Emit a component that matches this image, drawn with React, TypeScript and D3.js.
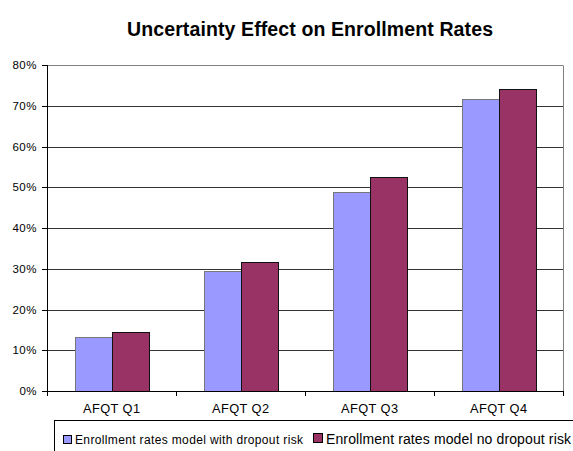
import React from "react";
import * as d3 from "d3";

const categories = ["AFQT Q1", "AFQT Q2", "AFQT Q3", "AFQT Q4"];
const seriesNames = [
  "Enrollment rates model with dropout risk",
  "Enrollment rates model no dropout risk",
];
const withDropout = [0.133, 0.295, 0.488, 0.716];
const noDropout = [0.146, 0.316, 0.524, 0.741];
const yTicks = [0, 0.1, 0.2, 0.3, 0.4, 0.5, 0.6, 0.7, 0.8];
const colors = ["#9999FF", "#993366"];
const strokes = ["#777777", "#111111"];

export default function App() {
  const W = 573, H = 451;
  const left = 47, right = 563, top = 65, bottom = 391;
  const y = d3.scaleLinear().domain([0, 0.8]).range([bottom, top]);
  const x0 = d3.scaleBand<string>().domain(categories).range([left, right]).padding(0);
  const bw = x0.bandwidth();
  const pad = bw * 0.214;
  const x1 = d3.scaleBand<number>().domain([0, 1]).range([pad, bw - pad]).padding(0);
  const fmt = d3.format(".0%");
  const series = [withDropout, noDropout];
  const font = "'Liberation Sans', Arial, sans-serif";

  return (
    <svg width={W} height={H} style={{ position: "absolute", left: 0, top: 0, background: "#fff" }} fontFamily={font}>
      <text x={310} y={36} textAnchor="middle" fontSize={19.5} fontWeight="bold" fill="#000"
        textLength={366} lengthAdjust="spacing">
        Uncertainty Effect on Enrollment Rates
      </text>
      {/* gridlines */}
      {yTicks.map((t) => (
        <line key={"g" + t} x1={left} x2={right} y1={Math.round(y(t)) + 0.5} y2={Math.round(y(t)) + 0.5}
          stroke={t === 0.8 ? "#808080" : "#333"} strokeWidth={1} />
      ))}
      {/* right border */}
      <line x1={right + 0.5} x2={right + 0.5} y1={Math.round(y(0.8)) + 0.5} y2={bottom} stroke="#808080" />
      {/* bars */}
      {categories.map((c, i) => (
        <g key={c}>
          {series.map((s, j) => {
            const bx = (x0(c) as number) + (x1(j) as number);
            const by = y(s[i]);
            return (
              <rect key={j} x={Math.round(bx) + 0.5} y={Math.round(by) + 0.5} width={Math.round(x1.bandwidth())}
                height={Math.round(bottom - by)} fill={colors[j]} stroke={strokes[j]} strokeWidth={1} />
            );
          })}
        </g>
      ))}
      {/* y axis */}
      <line x1={left + 0.5} x2={left + 0.5} y1={top} y2={bottom + 0.5} stroke="#000" />
      {yTicks.map((t) => (
        <g key={"t" + t}>
          <line x1={left - 5} x2={left} y1={Math.round(y(t)) + 0.5} y2={Math.round(y(t)) + 0.5} stroke="#000" />
          <text x={37} y={y(t) + 4} textAnchor="end" fontSize={11.5} letterSpacing={0.5} fill="#000">{fmt(t)}</text>
        </g>
      ))}
      {/* x axis */}
      <line x1={left} x2={right + 1} y1={bottom + 0.5} y2={bottom + 0.5} stroke="#000" />
      {[...categories.map((c) => x0(c) as number), right].map((v, k) => (
        <line key={"xt" + k} x1={Math.round(v) + 0.5} x2={Math.round(v) + 0.5} y1={bottom} y2={bottom + 5} stroke="#000" />
      ))}
      {categories.map((c) => (
        <text key={"xl" + c} x={(x0(c) as number) + bw / 2} y={413} textAnchor="middle" fontSize={12.8}
          textLength={57} lengthAdjust="spacing" fill="#000">{c}</text>
      ))}
      {/* legend */}
      <rect x={54.5} y={420.5} width={530} height={40} fill="#fff" stroke="#000" />
      <rect x={63.5} y={435.5} width={8} height={8} fill={colors[0]} stroke="#000" />
      <text x={75} y={444} fontSize={12} textLength={228} lengthAdjust="spacing" fill="#000">{seriesNames[0]}</text>
      <rect x={313.5} y={433.5} width={9} height={9} fill={colors[1]} stroke="#000" />
      <text x={326} y={444} fontSize={14} textLength={245} lengthAdjust="spacing" fill="#000">{seriesNames[1]}</text>
    </svg>
  );
}
